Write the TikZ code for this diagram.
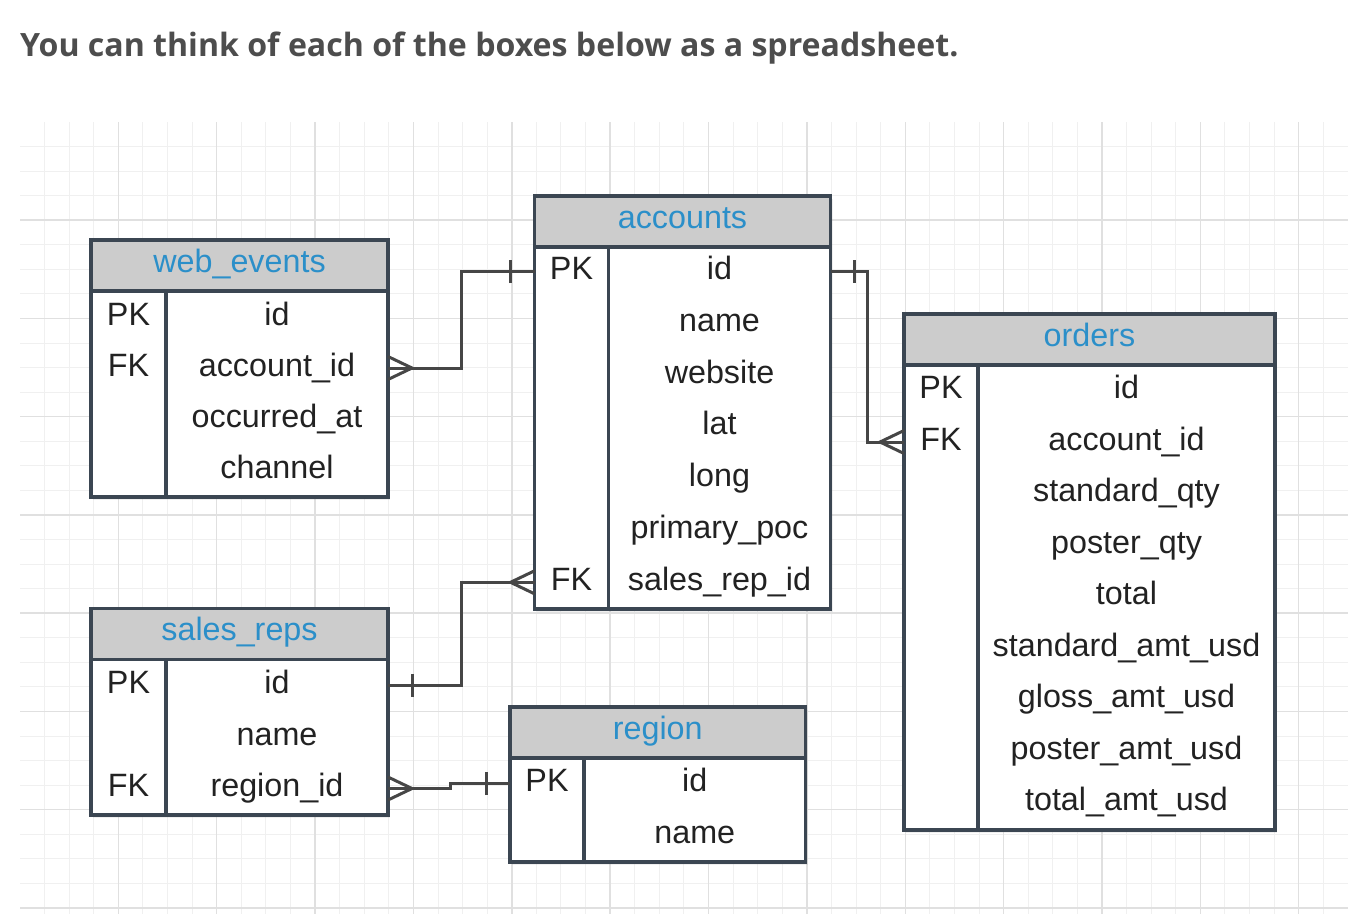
\documentclass[tikz,border=0pt]{standalone}
\usepackage{fontspec}
\setmainfont{Liberation Sans}
\newfontfamily\titlefont{Open Sans}
\usepackage{tikz}
\usetikzlibrary{positioning,shadows}

\definecolor{gridminor}{HTML}{F0F0F0}
\definecolor{gridmajor}{HTML}{E0E0E0}
\definecolor{tblline}{HTML}{3B4652}
\definecolor{headgray}{HTML}{CCCCCC}
\definecolor{headblue}{HTML}{2B8FC9}
\definecolor{fieldtext}{HTML}{222222}
\definecolor{linkgray}{HTML}{464646}
\definecolor{titlegray}{HTML}{4D4D4D}

\tikzset{
  crow/.pic={\draw[link] (0,-11.5) -- (24,0) -- (0,11.5);},
  onebar/.pic={\draw[link] (24,-11.5) -- (24,11.5);}
}

\begin{document}
\begin{tikzpicture}[x=1pt,y=-1pt,
    tbl/.style={draw=tblline,line width=3.5pt},
    head/.style={tbl,fill=headgray,text=headblue,outer sep=0pt,inner sep=0pt,
      font=\fontsize{32.3}{39}\selectfont,text height=17.5pt,text depth=4.5pt,
      minimum height=51pt,drop shadow={opacity=0.12,shadow xshift=2pt,shadow yshift=-3pt}},
    body/.style={tbl,fill=white,outer sep=0pt,inner sep=0pt,anchor=north,
      drop shadow={opacity=0.12,shadow xshift=2pt,shadow yshift=-3pt}},
    field/.style={text=fieldtext,inner sep=0pt,font=\fontsize{32.3}{39}\selectfont,
      text height=20pt,text depth=4pt},
    link/.style={draw=linkgray,line width=3pt}]

  \fill[white] (0,0) rectangle (1364,914);
  \useasboundingbox (0,0) rectangle (1364,914);

  % grid
  \foreach \i in {1,...,53}
    \draw[gridminor,line width=1pt] ({20+24.59*\i},122) -- ({20+24.59*\i},914);
  \foreach \j in {1,...,32}
    \draw[gridminor,line width=1pt] (20,{122+24.56*\j}) -- (1348,{122+24.56*\j});
  \foreach \i in {4,8,...,52}
    \draw[gridmajor,line width=1.5pt] ({20+24.59*\i},122) -- ({20+24.59*\i},914);
  \foreach \j in {4,8,...,32}
    \draw[gridmajor,line width=1.5pt] (20,{122+24.56*\j}) -- (1348,{122+24.56*\j});

  \node[anchor=base west,inner sep=0pt,text=titlegray,
    font=\titlefont\bfseries\fontsize{32.1}{38}\selectfont] (title) at (20,56)
    {You can think of each of the boxes below as a spreadsheet.};

  % web_events
  \node[head,minimum width=297pt] (we) at (239.5,265.5) {web\_events};
  \node[body,minimum width=297pt,minimum height=206pt] (we-b) at (we.south) {};
  \draw[tbl] ([xshift=75pt]we-b.north west) -- ([xshift=75pt]we-b.south west);
  \foreach \k/\f [count=\i] in {PK/id,FK/account\_id,/occurred\_at,/channel}{
    \node[field] (we-k\i) at (128.5,{317+51*(\i-1)}) {\k};
    \node[field] (we-\i) at (277,{317+51*(\i-1)}) {\f};
  }

  % accounts
  \node[head,minimum width=296pt] (acc) at (682.5,221.5) {accounts};
  \node[body,minimum width=296pt,minimum height=362pt] (acc-b) at (acc.south) {};
  \draw[tbl] ([xshift=74pt]acc-b.north west) -- ([xshift=74pt]acc-b.south west);
  \foreach \k/\f [count=\i] in {PK/id,/name,/website,/lat,/long,/primary\_poc,FK/sales\_rep\_id}{
    \node[field] (acc-k\i) at (571.5,{271.5+51.8*(\i-1)}) {\k};
    \node[field] (acc-\i) at (719.5,{271.5+51.8*(\i-1)}) {\f};
  }

  % orders
  \node[head,minimum width=371pt] (ord) at (1089.5,339.5) {orders};
  \node[body,minimum width=371pt,minimum height=465pt] (ord-b) at (ord.south) {};
  \draw[tbl] ([xshift=74pt]ord-b.north west) -- ([xshift=74pt]ord-b.south west);
  \foreach \k/\f [count=\i] in {PK/id,FK/account\_id,/standard\_qty,/poster\_qty,/total,
      /standard\_amt\_usd,/gloss\_amt\_usd,/poster\_amt\_usd,/total\_amt\_usd}{
    \node[field] (ord-k\i) at (941,{390.5+51.5*(\i-1)}) {\k};
    \node[field] (ord-\i) at (1126.5,{390.5+51.5*(\i-1)}) {\f};
  }

  % sales_reps
  \node[head,minimum width=297pt] (sr) at (239.5,634) {sales\_reps};
  \node[body,minimum width=297pt,minimum height=155.5pt] (sr-b) at (sr.south) {};
  \draw[tbl] ([xshift=75pt]sr-b.north west) -- ([xshift=75pt]sr-b.south west);
  \foreach \k/\f [count=\i] in {PK/id,/name,FK/region\_id}{
    \node[field] (sr-k\i) at (128.5,{685.5+51.5*(\i-1)}) {\k};
    \node[field] (sr-\i) at (277,{685.5+51.5*(\i-1)}) {\f};
  }

  % region
  \node[head,minimum width=295.5pt] (rg) at (657.75,732.5) {region};
  \node[body,minimum width=295.5pt,minimum height=104pt] (rg-b) at (rg.south) {};
  \draw[tbl] ([xshift=74pt]rg-b.north west) -- ([xshift=74pt]rg-b.south west);
  \foreach \k/\f [count=\i] in {PK/id,/name}{
    \node[field] (rg-k\i) at (547,{783.5+51.5*(\i-1)}) {\k};
    \node[field] (rg-\i) at (694.75,{783.5+51.5*(\i-1)}) {\f};
  }

  % relations
  \draw[link] (we-b.east |- we-2) -- ++(73.5,0) |- (acc-b.west |- acc-1);
  \pic at (we-b.east |- we-2) {crow};
  \pic[rotate=180] at (acc-b.west |- acc-1) {onebar};

  \draw[link] (acc-b.east |- acc-1) -- ++(37,0) |- (ord-b.west |- ord-2);
  \pic at (acc-b.east |- acc-1) {onebar};
  \pic[rotate=180] at (ord-b.west |- ord-2) {crow};

  \draw[link] (sr-b.east |- sr-1) -- ++(73,0) |- (acc-b.west |- acc-7);
  \pic at (sr-b.east |- sr-1) {onebar};
  \pic[rotate=180] at (acc-b.west |- acc-7) {crow};

  \draw[link] (sr-b.east |- sr-3) -- ++(62,0) |- (rg-b.west |- rg-1);
  \pic at (sr-b.east |- sr-3) {crow};
  \pic[rotate=180] at (rg-b.west |- rg-1) {onebar};
\end{tikzpicture}
\end{document}
